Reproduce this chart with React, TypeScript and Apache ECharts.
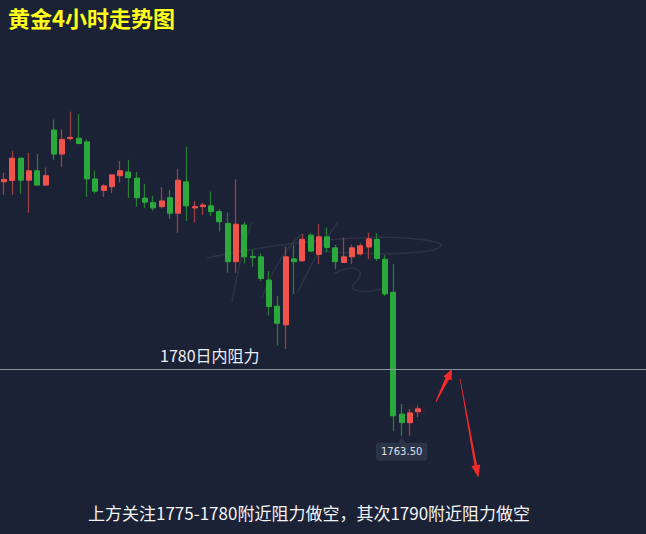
import React, { useEffect, useRef } from "react";
import * as echarts from "echarts";

// 4-hour gold candles: open / close / low / high
const opens = [
  1825.9, 1826.2, 1831.7, 1826.3, 1828.6, 1825.1, 1838.6, 1832.7, 1836.5, 1836.6,
  1835.7, 1826.6, 1823.8, 1824.7, 1827.4, 1828.3, 1826.8, 1821.9, 1820.8, 1819.8,
  1822.0, 1818.2, 1825.9, 1819.5, 1819.8, 1820.0, 1818.6, 1815.7, 1806.3, 1815.3,
  1807.6, 1807.5, 1801.8, 1795.4, 1790.8, 1807.0, 1806.5, 1812.8, 1808.1, 1812.4,
  1809.7, 1806.1, 1807.5, 1808.2, 1809.9, 1811.8, 1806.9, 1798.8, 1768.9, 1766.8,
  1769.5,
];
const closes = [
  1826.5, 1831.7, 1826.3, 1828.6, 1825.1, 1827.4, 1832.7, 1836.3, 1836.8, 1835.3,
  1826.6, 1823.6, 1824.9, 1827.6, 1828.6, 1826.9, 1822.0, 1820.9, 1819.5, 1821.2,
  1818.2, 1826.3, 1820.0, 1819.8, 1820.2, 1818.6, 1816.1, 1806.3, 1815.5, 1807.5,
  1807.3, 1802.2, 1795.3, 1791.2, 1807.5, 1806.3, 1811.8, 1808.9, 1812.4, 1809.8,
  1806.3, 1807.5, 1809.7, 1810.2, 1811.9, 1807.1, 1798.4, 1768.5, 1766.8, 1769.2,
  1770.2,
];
const lows = [
  1822.7, 1822.7, 1823.0, 1818.3, 1824.9, 1824.9, 1831.3, 1829.6, 1836.0, 1835.1,
  1822.2, 1823.0, 1822.2, 1823.1, 1825.7, 1821.9, 1819.8, 1819.5, 1818.8, 1819.4,
  1816.8, 1813.4, 1816.3, 1816.0, 1817.8, 1817.5, 1813.7, 1803.6, 1803.6, 1805.9,
  1805.1, 1801.6, 1793.1, 1785.7, 1784.9, 1798.4, 1806.4, 1808.7, 1805.7, 1808.6,
  1804.4, 1806.0, 1805.7, 1807.8, 1806.9, 1806.5, 1797.9, 1764.8, 1763.5, 1763.6,
  1768.1,
];
const highs = [
  1828.1, 1833.5, 1831.8, 1833.0, 1832.7, 1829.4, 1841.2, 1838.8, 1843.1, 1842.5,
  1836.3, 1828.7, 1825.3, 1827.7, 1831.0, 1831.3, 1828.3, 1825.4, 1822.5, 1824.6,
  1823.9, 1829.0, 1834.5, 1821.2, 1820.8, 1823.5, 1819.2, 1818.4, 1826.5, 1816.1,
  1809.2, 1808.4, 1804.0, 1797.9, 1810.0, 1810.4, 1813.1, 1813.3, 1815.5, 1814.7,
  1810.4, 1812.2, 1810.4, 1810.8, 1813.4, 1813.3, 1807.9, 1805.7, 1771.4, 1770.2,
  1771.0,
];

const resistance = 1780;
const titleText = "黄金4小时走势图";
const noteText = "上方关注1775-1780附近阻力做空，其次1790附近阻力做空";

const BG = "#1c2236";
const UP = "#f0524c";
const DOWN = "#2ca93c";
const UP_WICK = "#9a3f42";
const DOWN_WICK = "#287c34";
const ARROW = "#f42a2a";
const MARK = "rgba(255,255,255,0.07)";
const CJK = "'Noto Sans CJK SC', 'Noto Sans', sans-serif";

// total category slots: candles plus empty room on the right
const SLOTS = 78;

export default function App() {
  const ref = useRef<HTMLDivElement>(null);

  useEffect(() => {
    const chart = echarts.init(ref.current!, null, { renderer: "svg" });
    const n = opens.length;
    const cats = Array.from({ length: SLOTS }, (_, i) => `K${i + 1}`);

    const wickData = opens.map((o, i) => [o, closes[i], lows[i], highs[i]]);
    const bodyData = opens.map((o, i) => {
      const c = closes[i];
      const item: any = { value: [o, c, Math.min(o, c), Math.max(o, c)] };
      if (i === n - 1) {
        item.itemStyle = { shadowBlur: 16, shadowColor: "rgba(255,30,30,1)" };
      }
      return item;
    });

    let minIdx = 0;
    lows.forEach((l, i) => {
      if (l < lows[minIdx]) minIdx = i;
    });

    const stroke = (
      x1: number, y1: number, cx1: number, cy1: number,
      cx2: number, cy2: number, x2: number, y2: number
    ) => ({
      type: "bezierCurve",
      silent: true,
      shape: { x1, y1, cpx1: cx1, cpy1: cy1, cpx2: cx2, cpy2: cy2, x2, y2 },
      style: { stroke: MARK, lineWidth: 1.6, fill: "none" },
      z: 1,
    });

    chart.setOption({
      animation: false,
      backgroundColor: BG,
      title: {
        text: titleText,
        left: 8,
        top: 6,
        padding: 0,
        textStyle: {
          color: "#ffff1a",
          fontSize: 22,
          fontWeight: "bold",
          fontFamily: CJK,
        },
      },
      grid: { left: -1, top: 0, width: 649, height: 534 },
      xAxis: {
        type: "category",
        data: cats,
        show: false,
        boundaryGap: true,
      },
      yAxis: {
        type: "value",
        min: 1739.5,
        max: 1870.5,
        show: false,
        splitLine: { show: false },
      },
      series: [
        {
          name: "wick",
          type: "candlestick",
          data: wickData,
          barWidth: 1,
          silent: true,
          itemStyle: {
            color: UP_WICK,
            color0: DOWN_WICK,
            borderColor: UP_WICK,
            borderColor0: DOWN_WICK,
            borderWidth: 1.3,
          },
          z: 2,
        },
        {
          name: "body",
          type: "candlestick",
          data: bodyData,
          barWidth: 5.5,
          silent: true,
          itemStyle: {
            color: UP,
            color0: DOWN,
            borderColor: UP,
            borderColor0: DOWN,
            borderWidth: 1,
          },
          z: 3,
          markLine: {
            silent: true,
            symbol: ["none", "none"],
            label: { show: false },
            lineStyle: { color: "#8e949d", width: 1, type: "solid" },
            data: [{ yAxis: resistance }],
          },
          markPoint: {
            silent: true,
            symbol: "triangle",
            symbolSize: [8, 5],
            symbolOffset: [0, 4],
            itemStyle: { color: "#2b3349" },
            label: {
              show: true,
              position: "bottom",
              distance: 0,
              formatter: lows[minIdx].toFixed(2),
              backgroundColor: "#2b3349",
              color: "#dde1e8",
              fontSize: 10,
              fontFamily: "'DejaVu Sans', sans-serif",
              padding: [4, 5, 4, 5],
              borderRadius: 3,
            },
            data: [{ coord: [minIdx, lows[minIdx]], value: lows[minIdx] }],
          },
        },
      ],
      graphic: [
        // faint signature watermark behind the candles
        stroke(207, 258, 290, 240, 400, 230, 441, 244),
        stroke(441, 244, 446, 254, 380, 256, 322, 251),
        stroke(232, 302, 238, 270, 244, 240, 252, 222),
        stroke(262, 298, 272, 270, 288, 245, 302, 234),
        stroke(298, 292, 312, 262, 326, 238, 338, 222),
        stroke(334, 274, 352, 262, 368, 270, 356, 282),
        stroke(356, 282, 344, 292, 366, 294, 384, 288),
        {
          type: "text",
          left: 160,
          top: 347,
          style: {
            text: `${resistance}日内阻力`,
            fill: "#eceef2",
            fontSize: 16,
            fontFamily: CJK,
          },
          z: 10,
        },
        {
          type: "text",
          left: 88,
          top: 504,
          style: {
            text: noteText,
            fill: "#f2f3f5",
            fontSize: 17,
            fontFamily: CJK,
          },
          z: 10,
        },
        // upward arrow toward the resistance line
        {
          type: "polygon",
          shape: {
            points: [
              [435.5, 401.5],
              [436.3, 401.9],
              [450.0, 377.8],
              [446.2, 376.0],
            ],
          },
          style: { fill: ARROW },
          z: 10,
        },
        {
          type: "polygon",
          shape: {
            points: [
              [452, 369],
              [451.6, 380.5],
              [443.4, 376.4],
            ],
          },
          style: { fill: ARROW },
          z: 10,
        },
        // downward arrow
        {
          type: "polygon",
          shape: {
            points: [
              [459.8, 379],
              [460.4, 379],
              [477.2, 466],
              [474.6, 466.4],
            ],
          },
          style: { fill: ARROW },
          z: 10,
        },
        {
          type: "polygon",
          shape: {
            points: [
              [478.3, 477.5],
              [480.2, 464.4],
              [471.4, 466.0],
            ],
          },
          style: { fill: ARROW },
          z: 10,
        },
      ],
    });

    return () => chart.dispose();
  }, []);

  return (
    <div
      ref={ref}
      style={{ position: "fixed", left: 0, top: 0, width: 646, height: 534 }}
    />
  );
}
